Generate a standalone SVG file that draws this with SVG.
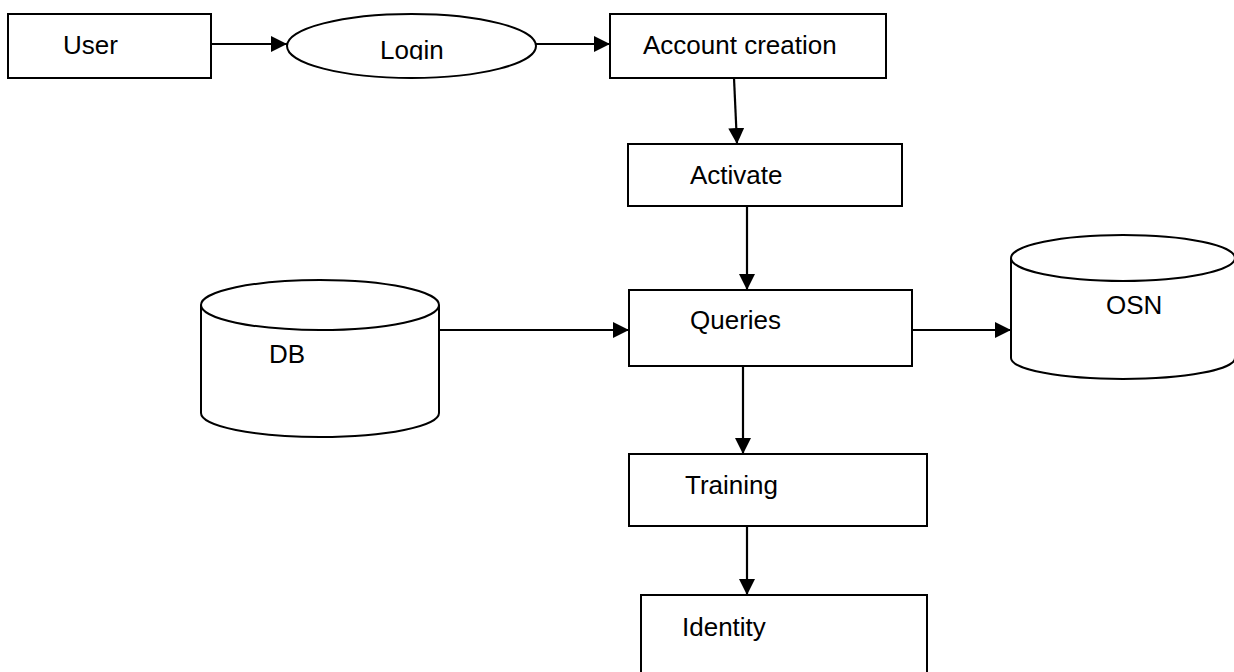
<svg xmlns="http://www.w3.org/2000/svg" width="1234" height="672" viewBox="0 0 1234 672">
<style>
.s{fill:#fff;stroke:#000;stroke-width:2}
.t{font-family:"Liberation Sans",Arial,sans-serif;font-size:26px;fill:#000}
.c{stroke:#000;stroke-width:2.2;fill:none}
</style>
<defs>
<marker id="ah" markerUnits="userSpaceOnUse" markerWidth="17" markerHeight="16" refX="16" refY="8" orient="auto">
<path d="M0,0 L16,8 L0,16 z" fill="#000"/>
</marker>
<clipPath id="lc"><rect x="0" y="0" width="1234" height="60"/></clipPath>
</defs>
<g id="connectors">
<line class="c" x1="211" y1="44" x2="287" y2="44" marker-end="url(#ah)"/>
<line class="c" x1="536" y1="44" x2="610" y2="44" marker-end="url(#ah)"/>
<line class="c" x1="734" y1="78" x2="737" y2="144" marker-end="url(#ah)"/>
<line class="c" x1="747" y1="206" x2="747" y2="290" marker-end="url(#ah)"/>
<line class="c" x1="439" y1="330" x2="629" y2="330" marker-end="url(#ah)"/>
<line class="c" x1="912" y1="330" x2="1011" y2="330" marker-end="url(#ah)"/>
<line class="c" x1="743" y1="366" x2="743" y2="454" marker-end="url(#ah)"/>
<line class="c" x1="747" y1="526" x2="747" y2="595" marker-end="url(#ah)"/>
</g>
<g id="user">
<rect class="s" x="8" y="14" width="203" height="64"/>
<text class="t" x="63" y="54">User</text>
</g>
<g id="login">
<ellipse class="s" cx="411.5" cy="46" rx="124.5" ry="32"/>
<text class="t" x="380" y="59" clip-path="url(#lc)">Login</text>
</g>
<g id="account">
<rect class="s" x="610" y="14" width="276" height="64"/>
<text class="t" x="643" y="54">Account creation</text>
</g>
<g id="activate">
<rect class="s" x="628" y="144" width="274" height="62"/>
<text class="t" x="690" y="184">Activate</text>
</g>
<g id="queries">
<rect class="s" x="629" y="290" width="283" height="76"/>
<text class="t" x="690" y="329">Queries</text>
</g>
<g id="db">
<path class="s" d="M201,305 L201,413 A119,24 0 0 0 439,413 L439,305"/>
<ellipse class="s" cx="320" cy="305" rx="119" ry="25"/>
<text class="t" x="269" y="363">DB</text>
</g>
<g id="osn">
<path class="s" d="M1011,258 L1011,358 A112,21 0 0 0 1235,358 L1235,258"/>
<ellipse class="s" cx="1123" cy="258" rx="112" ry="23"/>
<text class="t" x="1106" y="314">OSN</text>
</g>
<g id="training">
<rect class="s" x="629" y="454" width="298" height="72"/>
<text class="t" x="685" y="494">Training</text>
</g>
<g id="identity">
<rect class="s" x="641" y="595" width="286" height="80"/>
<text class="t" x="682" y="636">Identity</text>
</g>
</svg>
